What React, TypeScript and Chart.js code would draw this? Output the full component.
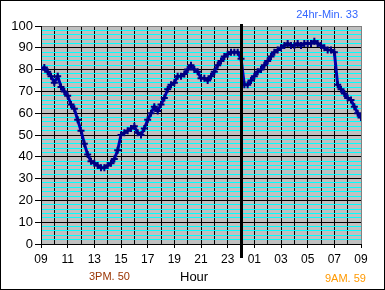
import React, { useEffect, useRef } from "react";
import { Chart, registerables } from "chart.js";

Chart.register(...registerables);

// Temperature samples every 15 minutes from 09:00 to 09:00 next day
const START_HOUR = 9;
const SAMPLE_MINUTES = 15;
const TEMPS = [
  80, 81, 79, 77, 74, 77, 72, 70, 68, 64, 62, 57, 52, 46, 41, 38,
  37, 36, 35, 35, 36, 37, 39, 43, 50, 51, 52, 53, 54, 51, 50, 53,
  57, 60, 63, 61, 64, 67, 71, 73, 74, 77, 77, 78, 80, 82, 80, 79,
  76, 76, 75, 77, 79, 82, 84, 86, 87, 88, 88, 88, 85, 73, 73, 75,
  77, 79, 80, 82, 84, 86, 88, 89, 90, 91, 92, 91, 91, 92, 91, 92,
  92, 92, 93, 92, 91, 90, 89, 89, 88, 73, 71, 69, 67, 66, 63, 60,
  58,
];
const MIDNIGHT_OFFSET = 15; // hours after 09:00
const TITLE = "24hr-Min. 33";
const NOTE_LEFT = "3PM. 50";
const AXIS_TITLE = "Hour";
const NOTE_RIGHT = "9AM. 59";

const FONT = "'Liberation Sans', Arial, sans-serif";

const decorPlugin = {
  id: "decor",
  beforeDraw(chart: any) {
    const { ctx, chartArea } = chart;
    const { left, top, right, bottom } = chartArea;
    ctx.save();
    ctx.fillStyle = "#ffffff";
    ctx.fillRect(0, 0, chart.width, chart.height);
    ctx.fillStyle = "#c0c0c0";
    ctx.fillRect(left, top, right - left, bottom - top);
    ctx.strokeStyle = "#000";
    ctx.lineWidth = 1;
    ctx.strokeRect(0.5, 0.5, chart.width - 1, chart.height - 1);
    ctx.restore();
  },
  afterDatasetsDraw(chart: any) {
    const { ctx, chartArea } = chart;
    const x = Math.round(chart.scales.x.getPixelForValue(MIDNIGHT_OFFSET));
    ctx.save();
    ctx.fillStyle = "#000";
    ctx.fillRect(x - 1, chartArea.top - 2, 3, chartArea.bottom - chartArea.top + 16);
    ctx.restore();
  },
  afterDraw(chart: any) {
    const { ctx } = chart;
    ctx.save();
    ctx.textBaseline = "alphabetic";
    ctx.font = `11px ${FONT}`;
    ctx.fillStyle = "#3366ff";
    ctx.textAlign = "right";
    ctx.fillText(TITLE, 358, 18);
    ctx.textAlign = "left";
    ctx.fillStyle = "#993300";
    ctx.fillText(NOTE_LEFT, 89, 280);
    ctx.fillStyle = "#ff9900";
    ctx.fillText(NOTE_RIGHT, 325, 282);
    ctx.font = `13px ${FONT}`;
    ctx.fillStyle = "#000";
    ctx.fillText(AXIS_TITLE, 180, 281);
    ctx.restore();
  },
};

const pad2 = (n: number) => (n < 10 ? "0" + n : "" + n);

export default function App() {
  const ref = useRef<HTMLCanvasElement>(null);
  useEffect(() => {
    document.body.style.margin = "0";
    const points = TEMPS.map((v, i) => ({ x: (i * SAMPLE_MINUTES) / 60, y: v }));
    const chart = new Chart(ref.current!, {
      type: "line",
      data: {
        datasets: [
          {
            data: points,
            borderColor: "#0000aa",
            borderWidth: 3,
            pointStyle: "cross",
            pointRadius: 3.5,
            pointBorderWidth: 2,
            pointBorderColor: "#000080",
            pointBackgroundColor: "#000080",
            tension: 0,
          },
        ],
      },
      options: {
        responsive: false,
        animation: false,
        events: [],
        layout: { autoPadding: false, padding: { left: 0, top: 26, right: 24, bottom: 0 } },
        plugins: { legend: { display: false }, tooltip: { enabled: false }, title: { display: false } },
        scales: {
          x: {
            type: "linear",
            min: 0,
            max: 24,
            afterFit: (s: any) => {
              s.height = 46;
            },
            ticks: {
              stepSize: 1,
              autoSkip: false,
              maxRotation: 0,
              padding: 4,
              color: "#000",
              font: { family: FONT, size: 12 },
              callback: (v: any) => (Number(v) % 2 === 0 ? pad2((START_HOUR + Number(v)) % 24) : ""),
            },
            grid: {
              color: (c: any) => (c.tick && c.tick.value === 24 ? "#808080" : "#000"),
              lineWidth: 1,
              tickLength: 4,
              tickColor: (c: any) => (c.tick && c.tick.value % 2 === 0 ? "#000" : "rgba(0,0,0,0)"),
            },
            border: { color: "#000", width: 1 },
          },
          y: {
            min: 0,
            max: 100,
            afterFit: (s: any) => {
              s.width = 41;
            },
            ticks: {
              stepSize: 2,
              autoSkip: false,
              padding: 2,
              color: "#000",
              font: { family: FONT, size: 13 },
              callback: (v: any) => (Number(v) % 10 === 0 ? String(v) : ""),
            },
            grid: {
              color: (c: any) => {
                const v = c.tick ? c.tick.value : 0;
                if (v === 100) return "#808080";
                return v % 10 === 0 ? "#000" : "#00ffff";
              },
              lineWidth: 1,
              tickLength: 6,
              tickColor: (c: any) => (c.tick && c.tick.value % 10 === 0 ? "#000" : "rgba(0,0,0,0)"),
            },
            border: { color: "#000", width: 1 },
          },
        },
      },
      plugins: [decorPlugin],
    });
    return () => chart.destroy();
  }, []);
  return <canvas ref={ref} width={385} height={290} style={{ display: "block" }} />;
}
